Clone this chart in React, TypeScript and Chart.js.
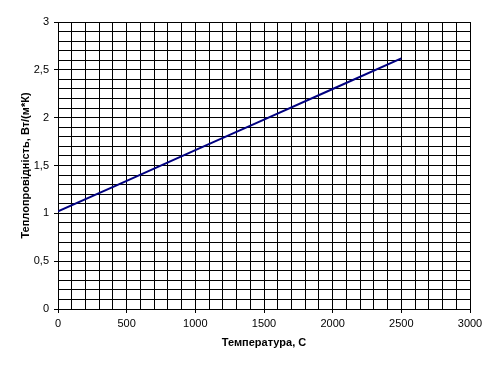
import React, { useEffect, useRef } from "react";
import { Chart, registerables } from "chart.js";

Chart.register(...registerables);

const temperatures = [0, 500, 1000, 1500, 2000, 2500];
const conductivity = [1.02, 1.34, 1.66, 1.98, 2.3, 2.62];
const xTitle = "Температура, С";
const yTitle = "Теплопровідність, Вт/(м*К)";

const FONT = "'Liberation Sans', Arial, sans-serif";

export default function App() {
  const ref = useRef<HTMLCanvasElement | null>(null);
  useEffect(() => {
    document.body.style.margin = "0";
    const ctx = ref.current!;
    const chart = new Chart(ctx, {
      type: "scatter",
      data: {
        datasets: [
          {
            data: temperatures.map((t, i) => ({ x: t, y: conductivity[i] })),
            showLine: true,
            borderColor: "#000080",
            backgroundColor: "#000080",
            borderWidth: 2,
            pointRadius: 0,
            tension: 0,
          },
        ],
      },
      options: {
        animation: false,
        responsive: false,
        maintainAspectRatio: false,
        layout: { padding: { top: 22, right: 26, left: 0, bottom: 0 } },
        plugins: { legend: { display: false }, tooltip: { enabled: false } },
        scales: {
          x: {
            type: "linear",
            min: 0,
            max: 3000,
            border: { color: "#000", width: 1 },
            grid: {
              color: "#000",
              lineWidth: 1,
              tickLength: 4,
              tickColor: (c: any) =>
                c.tick && Math.round(c.tick.value) % 500 === 0 ? "#000" : "rgba(0,0,0,0)",
            },
            ticks: {
              stepSize: 100,
              autoSkip: false,
              maxRotation: 0,
              padding: 4,
              color: "#000",
              font: { family: FONT, size: 11 },
              callback: (v: any) => (Math.round(v) % 500 === 0 ? String(Math.round(v)) : ""),
            },
            title: {
              display: true,
              text: xTitle,
              color: "#000",
              font: { family: FONT, size: 11, weight: "bold" },
              padding: { top: 6, bottom: 17 },
            },
            afterFit: (s: any) => {
              s.height = 58;
            },
          },
          y: {
            type: "linear",
            min: 0,
            max: 3,
            border: { color: "#000", width: 1 },
            grid: {
              color: "#000",
              lineWidth: 1,
              tickLength: 4,
              tickColor: (c: any) =>
                c.tick && Math.round(c.tick.value * 10) % 5 === 0 ? "#000" : "rgba(0,0,0,0)",
            },
            ticks: {
              stepSize: 0.1,
              autoSkip: false,
              padding: 5,
              color: "#000",
              font: { family: FONT, size: 11 },
              callback: (v: any) => {
                const r = Math.round(v * 10);
                if (r % 5 !== 0) return "";
                return String(r / 10).replace(".", ",");
              },
            },
            title: {
              display: true,
              text: yTitle,
              color: "#000",
              font: { family: FONT, size: 11, weight: "bold" },
              padding: { top: 19, bottom: 6 },
            },
            afterFit: (s: any) => {
              s.width = 58;
            },
          },
        },
      },
    });
    return () => chart.destroy();
  }, []);
  return (
    <div style={{ width: 496, height: 367 }}>
      <canvas ref={ref} width={496} height={367} style={{ display: "block" }} />
    </div>
  );
}
